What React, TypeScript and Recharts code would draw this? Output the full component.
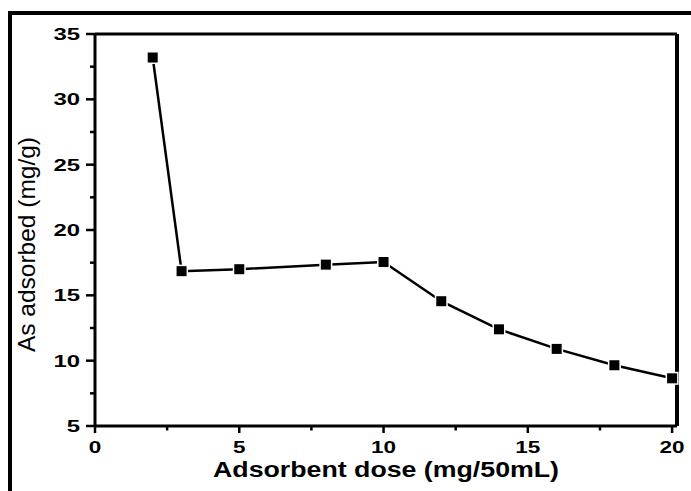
import { LineChart, Line, XAxis, YAxis, ReferenceLine } from 'recharts'

// adsorbent dose (mg/50mL) vs As adsorbed (mg/g)
const doses = [2, 3, 5, 8, 10, 12, 14, 16, 18, 20]
const adsorbed = [33.2, 16.85, 17.0, 17.35, 17.55, 14.55, 12.4, 10.9, 9.65, 8.65]
const xTicks = [0, 2.5, 5, 7.5, 10, 12.5, 15, 17.5, 20]
const yTicks = [5, 7.5, 10, 12.5, 15, 17.5, 20, 22.5, 25, 27.5, 30, 32.5, 35]
const X_MAX = 20.17

const FONT = '"Liberation Sans", Arial, sans-serif'

const data = doses.map((d, i) => ({ dose: d, value: adsorbed[i] }))

function XTick(props: any) {
  const { x, y, payload } = props
  const major = payload.value % 5 === 0
  const label = String(payload.value)
  return (
    <g>
      <line x1={x} x2={x} y1={y} y2={y + (major ? 7 : 4.5)} stroke="#000" strokeWidth={2.5} />
      {major && (
        <text x={x} y={y + 27} textAnchor="middle" fontFamily={FONT} fontWeight="bold" fontSize={16}
          textLength={12.5 * label.length} lengthAdjust="spacingAndGlyphs" fill="#000">
          {label}
        </text>
      )}
    </g>
  )
}

function YTick(props: any) {
  const { x, y, payload } = props
  const major = payload.value % 5 === 0
  const label = String(payload.value)
  return (
    <g>
      <line x1={x} x2={x - (major ? 9 : 5)} y1={y} y2={y} stroke="#000" strokeWidth={2.5} />
      {major && (
        <text x={80} y={y + 6} textAnchor="end" fontFamily={FONT} fontWeight="bold" fontSize={17}
          textLength={13.3 * label.length} lengthAdjust="spacingAndGlyphs" fill="#000">
          {label}
        </text>
      )}
    </g>
  )
}

function SquareDot(props: any) {
  const { cx, cy } = props
  if (cx == null || cy == null) return null
  return (
    <g>
      <rect x={cx - 6.5} y={cy - 6.5} width={13} height={13} fill="#fff" />
      <rect x={cx - 5} y={cy - 5} width={10} height={10} fill="#000" />
    </g>
  )
}

export default function App() {
  return (
    <div style={{ position: 'absolute', left: 0, top: 0, width: 691, height: 491, background: '#fff', overflow: 'hidden' }}>
      {/* outer frame (top + left only) */}
      <div style={{ position: 'absolute', left: 8, top: 11, width: 683, height: 4, background: '#000' }} />
      <div style={{ position: 'absolute', left: 8, top: 11, width: 4, height: 480, background: '#000' }} />

      <LineChart width={691} height={491} data={data} margin={{ top: 34, right: 14, bottom: 0, left: 0 }}>
        <XAxis dataKey="dose" type="number" domain={[0, X_MAX]} ticks={xTicks} interval={0} height={65}
          axisLine={{ stroke: '#000', strokeWidth: 3 }} tickLine={false} tickSize={0} tickMargin={0}
          tick={<XTick />}
          label={{
            content: () => (
              <text x={386} y={477} textAnchor="middle" fontFamily={FONT} fontWeight="bold" fontSize={22}
                textLength={346} lengthAdjust="spacingAndGlyphs" fill="#000">
                Adsorbent dose (mg/50mL)
              </text>
            ),
          }} />
        <YAxis type="number" domain={[5, 35]} ticks={yTicks} interval={0} width={95}
          axisLine={{ stroke: '#000', strokeWidth: 3 }} tickLine={false} tickSize={0} tickMargin={0}
          tick={<YTick />}
          label={{
            content: () => (
              <text x={35} y={244.5} transform="rotate(-90 35 244.5)" textAnchor="middle" fontFamily={FONT}
                fontSize={24} textLength={215} lengthAdjust="spacingAndGlyphs" fill="#000">
                As adsorbed (mg/g)
              </text>
            ),
          }} />
        <ReferenceLine y={35} stroke="#000" strokeWidth={3} />
        <ReferenceLine x={X_MAX} stroke="#000" strokeWidth={4} />
        <Line type="linear" dataKey="value" stroke="#000" strokeWidth={2.5} dot={<SquareDot />}
          activeDot={false} isAnimationActive={false} />
      </LineChart>
    </div>
  )
}
